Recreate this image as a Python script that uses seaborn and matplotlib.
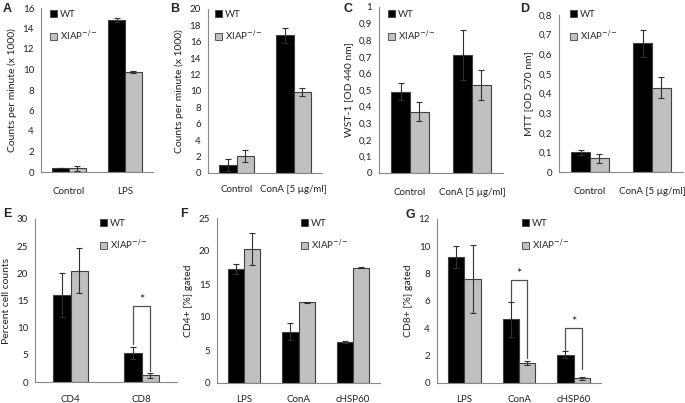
import numpy as np
import pandas as pd
import matplotlib
matplotlib.use("Agg")
import matplotlib.pyplot as plt
import seaborn as sns
from matplotlib.patches import Patch
from matplotlib.ticker import FuncFormatter, MultipleLocator, FixedLocator

sns.set_style("white")
plt.rcParams['font.family'] = ['Lato', 'DejaVu Sans']
plt.rcParams['font.size'] = 7

groups = ['WT', 'XIAP-/-']
colors = {'WT': '#000000', 'XIAP-/-': '#c0c0c0'}

# panel A
a_cats = ['Control', 'LPS']
a_wt = [0.35, 14.8]
a_wt_err = [0.0, 0.2]
a_ko = [0.35, 9.75]
a_ko_err = [0.25, 0.1]

# panel B
b_cats = ['Control', 'ConA [5 µg/ml]']
b_wt = [1.0, 16.8]
b_wt_err = [0.7, 0.9]
b_ko = [2.1, 9.85]
b_ko_err = [0.7, 0.5]

# panel C
c_cats = ['Control', 'ConA [5 µg/ml]']
c_wt = [0.49, 0.71]
c_wt_err = [0.05, 0.15]
c_ko = [0.37, 0.53]
c_ko_err = [0.055, 0.09]

# panel D
d_cats = ['Control', 'ConA [5 µg/ml]']
d_wt = [0.10, 0.655]
d_wt_err = [0.012, 0.068]
d_ko = [0.07, 0.43]
d_ko_err = [0.022, 0.055]

# panel E
e_cats = ['CD4', 'CD8']
e_wt = [16.0, 5.4]
e_wt_err = [4.0, 1.1]
e_ko = [20.5, 1.2]
e_ko_err = [4.1, 0.45]

# panel F
f_cats = ['LPS', 'ConA', 'cHSP60']
f_wt = [17.3, 7.8, 6.2]
f_wt_err = [0.8, 1.3, 0.15]
f_ko = [20.3, 12.2, 17.5]
f_ko_err = [2.4, 0.1, 0.1]

# panel G
g_cats = ['LPS', 'ConA', 'cHSP60']
g_wt = [9.25, 4.65, 2.07]
g_wt_err = [0.8, 1.25, 0.25]
g_ko = [7.6, 1.48, 0.33]
g_ko_err = [2.5, 0.15, 0.1]

W, H = 685, 403
fig = plt.figure(figsize=(W / 100, H / 100), dpi=100)


def px_axes(l, r, t, b):
    return fig.add_axes([l / W, 1 - b / H, (r - l) / W, (b - t) / H])


def comma(v, pos):
    v = round(v, 1)
    if v == int(v):
        return str(int(v))
    return f"{v:.1f}".replace('.', ',')


def panel(ax, cats, wt, wt_err, ko, ko_err, ymax, step, ylabel, letter,
          letter_xy, leg_xy, width=0.6, decimal=False, xpad=9):
    df = pd.DataFrame({
        'cat': cats * 2,
        'grp': ['WT'] * len(cats) + ['XIAP-/-'] * len(cats),
        'val': list(wt) + list(ko),
    })
    sns.barplot(data=df, x='cat', y='val', hue='grp', order=cats,
                hue_order=groups, palette=colors, width=width,
                errorbar=None, edgecolor='#404040', linewidth=0.8,
                legend=False, ax=ax)
    errs = [wt_err, ko_err]
    for cont, err in zip(ax.containers, errs):
        xs = [b.get_x() + b.get_width() / 2 for b in cont]
        hs = [b.get_height() for b in cont]
        ax.errorbar(xs, hs, yerr=err, fmt='none', ecolor='#303030',
                    elinewidth=0.8, capsize=2.2, capthick=0.8)
    n = len(cats)
    ax.set_xlim(-0.5, n - 0.5)
    ax.set_ylim(0, ymax)
    ax.yaxis.set_major_locator(MultipleLocator(step))
    if decimal:
        ax.yaxis.set_major_formatter(FuncFormatter(comma))
    ax.set_xlabel('')
    ax.set_ylabel(ylabel, fontsize=7.5, color='#222222')
    sns.despine(ax=ax)
    for s in ['left', 'bottom']:
        ax.spines[s].set_color('#888888')
        ax.spines[s].set_linewidth(0.8)
    ax.tick_params(axis='y', direction='out', length=3, width=0.8,
                   color='#888888', labelsize=7, labelcolor='#222222', pad=2)
    ax.tick_params(axis='x', which='major', length=0, labelsize=7,
                   labelcolor='#222222', pad=xpad)
    ax.xaxis.set_minor_locator(FixedLocator(np.arange(0.5, n, 1.0)))
    ax.tick_params(axis='x', which='minor', direction='out', length=3,
                   width=0.8, color='#888888')
    handles = [Patch(facecolor=colors[g], edgecolor='#404040', linewidth=0.6)
               for g in groups]
    ax.legend(handles, ['WT', 'XIAP$^{-/-}$'], loc='upper left',
              bbox_to_anchor=(leg_xy[0] / W, 1 - leg_xy[1] / H),
              bbox_transform=fig.transFigure, frameon=False,
              handlelength=0.75, handleheight=0.75, handletextpad=0.3,
              labelspacing=0.95, borderpad=0, borderaxespad=0, fontsize=7)
    fig.text(letter_xy[0] / W, 1 - letter_xy[1] / H, letter, fontsize=9,
             fontweight='bold', family='Liberation Sans',
             ha='left', va='center')


def bracket(ax, ci, top, yl, yr, star_y):
    bw, bk = ax.containers[0][ci], ax.containers[1][ci]
    x1 = bw.get_x() + bw.get_width() / 2
    x2 = bk.get_x() + bk.get_width() / 2
    ax.plot([x1, x1, x2, x2], [yl, top, top, yr], color='#505050', lw=0.9)
    ax.text((x1 + x2) / 2, star_y, '*', ha='center', va='center',
            fontsize=9, color='#222222')


axA = px_axes(41, 153, 8, 172)
panel(axA, a_cats, a_wt, a_wt_err, a_ko, a_ko_err, 16, 2,
      'Counts per minute (x 1000)', 'A', (3, 9), (50, 10), xpad=11)
axB = px_axes(208, 322, 9, 173)
panel(axB, b_cats, b_wt, b_wt_err, b_ko, b_ko_err, 20, 2,
      'Counts per minute (x 1000)', 'B', (170, 9), (215, 10), xpad=9)
axC = px_axes(379, 503, 7, 173)
panel(axC, c_cats, c_wt, c_wt_err, c_ko, c_ko_err, 1.0, 0.1,
      'WST-1 [OD 440 nm]', 'C', (343, 9), (388, 10), decimal=True, xpad=11)
axD = px_axes(559, 683, 15, 172)
panel(axD, d_cats, d_wt, d_wt_err, d_ko, d_ko_err, 0.8, 0.1,
      'MTT [OD 570 nm]', 'D', (520, 9), (570, 10), decimal=True, xpad=11)
axE = px_axes(35, 177, 219, 382)
panel(axE, e_cats, e_wt, e_wt_err, e_ko, e_ko_err, 30, 5,
      'Percent cell counts', 'E', (3, 214), (100, 219), width=0.5)
bracket(axE, 1, 14.0, 7.0, 2.0, 15.0)
axF = px_axes(217, 380, 218, 383)
panel(axF, f_cats, f_wt, f_wt_err, f_ko, f_ko_err, 25, 5,
      'CD4+ [%] gated', 'F', (180, 214), (301, 219))
axG = px_axes(437, 601, 219, 383)
panel(axG, g_cats, g_wt, g_wt_err, g_ko, g_ko_err, 12, 2,
      'CD8+ [%] gated', 'G', (406, 215), (522, 219))
bracket(axG, 1, 7.55, 6.0, 1.85, 8.0)
bracket(axG, 2, 4.0, 2.45, 1.05, 4.45)

fig.savefig('out.png', dpi=100)
